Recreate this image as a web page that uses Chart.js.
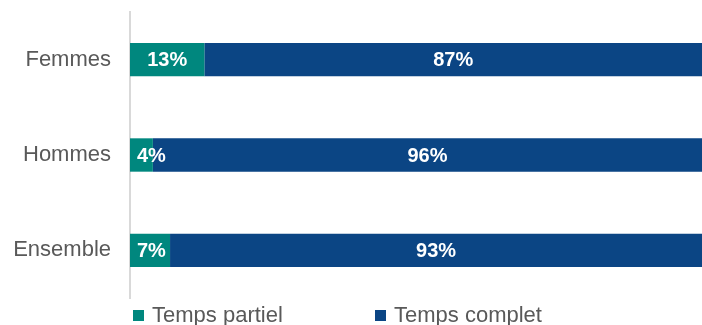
<!DOCTYPE html>
<html>
<head>
<meta charset="utf-8">
<script src="https://cdn.jsdelivr.net/npm/chart.js@4.4.0/dist/chart.umd.min.js"></script>
<style>
  html, body { margin: 0; padding: 0; background: #fff; }
  #wrap { width: 702px; height: 325px; position: relative; }
</style>
</head>
<body>
<div id="wrap"><canvas id="chart"></canvas></div>
<script>
const categories = ['Femmes', 'Hommes', 'Ensemble'];
const seriesNames = ['Temps partiel', 'Temps complet'];
const partiel = [13, 4, 7];
const complet = [87, 96, 93];
const colors = ['#00877E', '#0B4584'];

// labels inside bars, kept at least a bit away from the bar start
const barLabels = {
    id: 'barLabels',
    afterDatasetsDraw(chart) {
        const { ctx } = chart;
        ctx.save();
        ctx.font = 'bold 20px "Liberation Sans", Arial, sans-serif';
        ctx.fillStyle = '#ffffff';
        ctx.textBaseline = 'middle';
        ctx.textAlign = 'left';
        chart.data.datasets.forEach((ds, i) => {
            chart.getDatasetMeta(i).data.forEach((bar, j) => {
                const txt = ds.data[j] + '%';
                const w = ctx.measureText(txt).width;
                const start = Math.min(bar.base, bar.x);
                const end = Math.max(bar.base, bar.x);
                let x = (start + end) / 2 - w / 2;
                if (x < start + 7) x = start + 7;
                ctx.fillText(txt, x, bar.y + 1);
            });
        });
        ctx.restore();
    }
};

// legend drawn by hand at the bottom
const bottomLegend = {
    id: 'bottomLegend',
    afterDraw(chart) {
        const { ctx } = chart;
        const xs = [133, 375];
        ctx.save();
        ctx.font = '22px "Liberation Sans", Arial, sans-serif';
        ctx.textBaseline = 'middle';
        ctx.textAlign = 'left';
        chart.data.datasets.forEach((ds, i) => {
            ctx.fillStyle = ds.backgroundColor;
            ctx.fillRect(xs[i], 310, 11, 11);
            ctx.fillStyle = '#595959';
            ctx.fillText(ds.label, xs[i] + 19, 316);
        });
        ctx.restore();
    }
};

new Chart(document.getElementById('chart').getContext('2d'), {
    type: 'bar',
    data: {
        labels: categories,
        datasets: [
            { label: seriesNames[0], data: partiel, backgroundColor: colors[0] },
            { label: seriesNames[1], data: complet, backgroundColor: colors[1] }
        ]
    },
    options: {
        indexAxis: 'y',
        responsive: true,
        maintainAspectRatio: false,
        animation: false,
        datasets: { bar: { barPercentage: 0.35, categoryPercentage: 1 } },
        layout: { padding: { top: 12, bottom: 27, left: 0, right: 0 } },
        scales: {
            x: {
                stacked: true,
                min: 0, max: 100,
                display: false
            },
            y: {
                stacked: true,
                afterFit(s) {
                    s.width = 130;
                    s.paddingTop = 0;
                    s.paddingBottom = 0;
                },
                grid: { display: false, drawTicks: false },
                border: { display: true, color: '#D9D9D9', width: 2 },
                ticks: {
                    padding: 19,
                    color: '#595959',
                    font: { family: '"Liberation Sans", Arial, sans-serif', size: 22 }
                }
            }
        },
        plugins: {
            legend: { display: false },
            tooltip: { enabled: false }
        }
    },
    plugins: [barLabels, bottomLegend]
});
</script>
</body>
</html>
